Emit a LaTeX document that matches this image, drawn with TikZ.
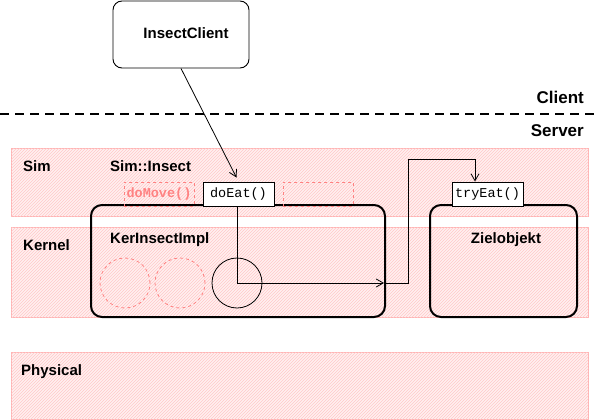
\documentclass[tikz,border=0pt]{standalone}
\usepackage{fontspec}
\setmainfont{Liberation Sans}
\setmonofont{Liberation Mono}
\usetikzlibrary{patterns,arrows.meta}
\definecolor{bandline}{RGB}{255,180,180}
\definecolor{bandhatch}{RGB}{255,200,200}
\definecolor{bandfill}{RGB}{255,240,240}
\definecolor{ghost}{RGB}{255,130,130}
\begin{document}
\begin{tikzpicture}[x=1pt,y=-1pt,
  band/.style={draw=bandline, line width=0.8pt, fill=bandfill,
    postaction={pattern=north east lines, pattern color=bandhatch},
    anchor=north west, inner sep=0},
  lbl/.style={font=\fontsize{15}{18}\selectfont\bfseries, inner sep=0, anchor=base west},
  big/.style={font=\fontsize{17}{20}\selectfont\bfseries, inner sep=0, anchor=base east},
  method/.style={draw, line width=0.9pt, fill=white, minimum width=71, minimum height=24,
    inner sep=0, font=\fontsize{13.5}{16}\selectfont\ttfamily},
  ghostbox/.style={draw=ghost, dashed, line width=0.8pt, minimum width=70, minimum height=24,
    inner sep=0, text=ghost, font=\fontsize{13.5}{16}\selectfont\ttfamily\bfseries},
  objbox/.style={draw, line width=2pt, rounded corners=11pt, inner sep=0},
  ghostcirc/.style={draw=ghost, dashed, circle, minimum size=50, inner sep=0, line width=0.8pt},
  blackcirc/.style={draw, circle, minimum size=50, inner sep=0, line width=0.8pt},
  arr/.style={line width=0.8pt, -{Straight Barb[length=7pt,width=8pt]}}
]
\useasboundingbox (0,0) rectangle (597,420);

% layer bands
\node[band, minimum width=577, minimum height=68] (simband) at (11,148) {};
\node[band, minimum width=577, minimum height=90] (kernband) at (11,227) {};
\node[band, minimum width=577, minimum height=67] (physband) at (11,352) {};

% client/server separator
\coordinate (dl) at (0,114);
\coordinate (dr) at (597,114);
\draw[line width=2pt, dash pattern=on 9pt off 6pt] (dl) -- (dr);
\node[big] (client) at (584,103) {Client};
\node[big] (server) at (584,136) {Server};

% layer labels
\node[lbl] (simlbl) at (23,171) {Sim};
\node[lbl] (simins) at (110,171) {Sim::Insect};
\node[lbl] (kernlbl) at (23,250) {Kernel};
\node[lbl] (physlbl) at (21,375) {Physical};

% objects
\node[objbox, minimum width=294, minimum height=112] (kernel) at (238,261) {};
\node[lbl] (kernname) at (110,243) {KerInsectImpl};
\node[objbox, minimum width=147, minimum height=112] (ziel) at (503.5,261) {};
\node[lbl, anchor=base] (zielname) at (506,243) {Zielobjekt};

\node[draw, line width=0.9pt, rounded corners=9pt, fill=white, minimum width=136, minimum height=67,
  inner sep=0] (ic) at (181,34.5) {};
\node[lbl, anchor=base] (icname) at (186,39) {InsectClient};

% methods
\node[ghostbox] (domove) at (159,194) {doMove()};
\node[method] (doeat) at (238.5,194) {doEat()};
\node[ghostbox] (empty) at (318,194) {};
\node[method] (tryeat) at (487.5,194) {tryEat()};

% circles
\node[ghostcirc] (c1) at (125,283) {};
\node[ghostcirc] (c2) at (180,283) {};
\node[blackcirc] (c3) at (237,283) {};

% connectors
\coordinate (bend) at (408,159);
\coordinate (kexit) at (384,283);
\draw[arr] (ic.south) -- ([xshift=-2pt,yshift=4pt]doeat.north);
\draw[line width=0.8pt] ([xshift=-1.5pt]doeat.south) -- (c3.center);
\draw[arr] (c3.center) -- (kexit);
\draw[arr] (kexit) -| (bend) -| ([xshift=-12.5pt]tryeat.north);
\end{tikzpicture}
\end{document}
